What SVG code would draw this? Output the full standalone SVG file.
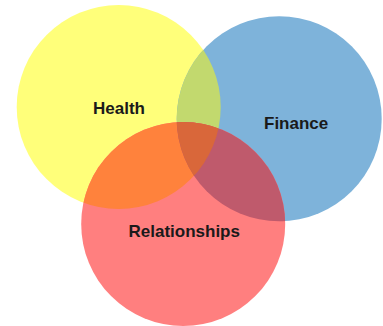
<svg xmlns="http://www.w3.org/2000/svg" width="383" height="326" viewBox="0 0 383 326">
<defs>
<style>
.lbl{font-family:"Liberation Sans",Arial,sans-serif;font-weight:bold;font-size:17px;fill:#1a1a1a}
</style>
<clipPath id="cy"><circle cx="118.7" cy="107" r="102"/></clipPath>
<clipPath id="cb"><circle cx="279.2" cy="118.7" r="102.5"/></clipPath>
<clipPath id="cr"><circle cx="183.2" cy="224" r="102"/></clipPath>
</defs>
<rect width="383" height="326" fill="#ffffff"/>
<g id="health">
<circle cx="118.7" cy="107" r="102" fill="#FFFF7A"/>
</g>
<g id="finance">
<circle cx="279.2" cy="118.7" r="102.5" fill="#7EB3DA"/>
<circle cx="279.2" cy="118.7" r="102.5" fill="#C2D96E" clip-path="url(#cy)"/>
</g>
<g id="relationships">
<circle cx="183.2" cy="224" r="102" fill="#FF7F7F"/>
<g clip-path="url(#cr)">
<circle cx="118.7" cy="107" r="102" fill="#FF823C"/>
<circle cx="279.2" cy="118.7" r="102.5" fill="#BF5A6C"/>
<g clip-path="url(#cy)">
<circle cx="279.2" cy="118.7" r="102.5" fill="#D9673A"/>
</g>
</g>
</g>
<g id="labels">
<text class="lbl" x="93" y="114.3">Health</text>
<text class="lbl" x="264" y="128.7">Finance</text>
<text class="lbl" x="128.5" y="236.7">Relationships</text>
</g>
</svg>
